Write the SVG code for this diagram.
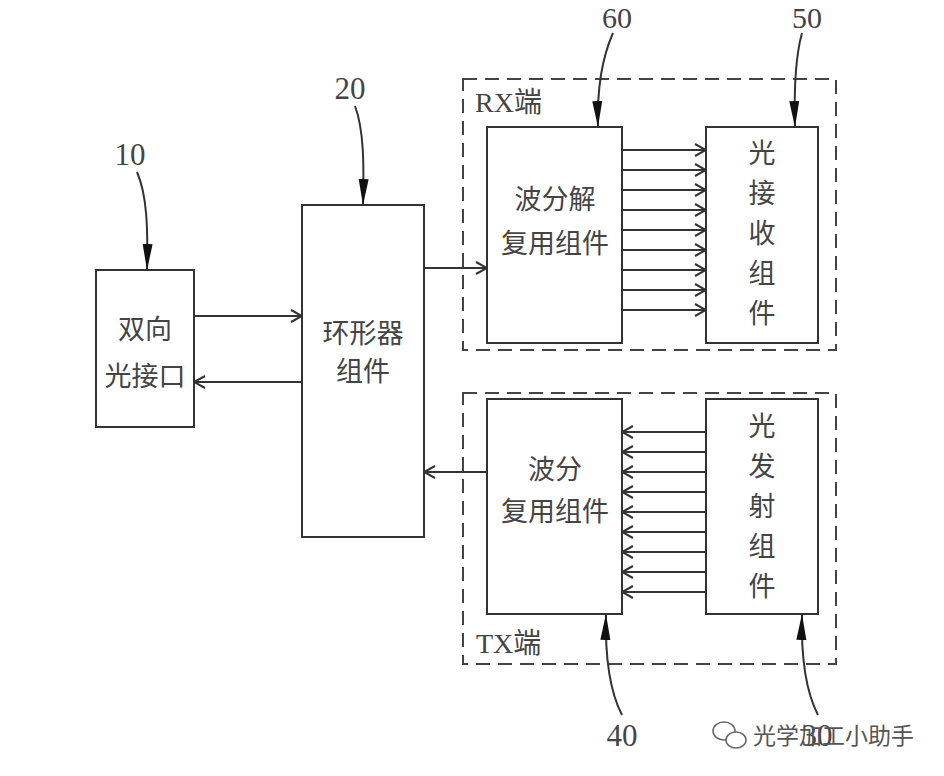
<svg xmlns="http://www.w3.org/2000/svg" width="944" height="776" viewBox="0 0 944 776">
<defs>
<style>
.box{fill:#fff;stroke:#333;stroke-width:2}
.dash{fill:none;stroke:#444;stroke-width:2;stroke-dasharray:14 8}
.cn{font-family:"Noto Sans CJK SC",sans-serif;font-size:27px;fill:#444;text-anchor:middle}
.num{font-family:"Liberation Serif","Noto Sans CJK SC",serif;font-size:31px;fill:#444;text-anchor:middle}
.top{font-size:30px}
.lab{font-family:"Liberation Serif","Noto Sans CJK SC",serif;font-size:28px;fill:#444}
.ln{fill:none;stroke:#333;stroke-width:2}
.lead{fill:none;stroke:#333;stroke-width:2}
.wm{font-family:"Noto Sans CJK SC",sans-serif;font-size:23px;fill:#555}
</style>
<marker id="open" markerUnits="userSpaceOnUse" markerWidth="14" markerHeight="14" viewBox="0 0 14 14" refX="13" refY="7" orient="auto">
<path d="M2,1 L13,7 L2,13" fill="none" stroke="#333" stroke-width="2"/>
</marker>
<marker id="fill" markerUnits="userSpaceOnUse" markerWidth="26" markerHeight="12" viewBox="0 0 26 12" refX="26" refY="6" orient="auto">
<path d="M0,1 L26,6 L0,11 Z" fill="#111"/>
</marker>
</defs>
<rect width="944" height="776" fill="#fff"/>

<g id="rx-group">
<rect class="dash" x="463" y="79" width="373" height="271"/>
<text class="lab" x="475" y="112">RX端</text>
</g>
<g id="tx-group">
<rect class="dash" x="463" y="393" width="373" height="271"/>
<text class="lab" x="476" y="653">TX端</text>
</g>

<g id="n10">
<rect class="box" x="96" y="270" width="98" height="157"/>
<text class="cn" x="145" y="339">双向</text>
<text class="cn" x="145" y="386">光接口</text>
</g>
<g id="n20">
<rect class="box" x="302" y="205" width="122" height="332"/>
<text class="cn" x="363" y="343">环形器</text>
<text class="cn" x="363" y="381">组件</text>
</g>
<g id="n60">
<rect class="box" x="487" y="127" width="135" height="216"/>
<text class="cn" x="555" y="209">波分解</text>
<text class="cn" x="555" y="253">复用组件</text>
</g>
<g id="n50">
<rect class="box" x="706" y="127" width="112" height="216"/>
<text class="cn" x="762" y="163">光</text>
<text class="cn" x="762" y="203">接</text>
<text class="cn" x="762" y="243">收</text>
<text class="cn" x="762" y="283">组</text>
<text class="cn" x="762" y="323">件</text>
</g>
<g id="n40">
<rect class="box" x="487" y="399" width="135" height="215"/>
<text class="cn" x="555" y="479">波分</text>
<text class="cn" x="555" y="521">复用组件</text>
</g>
<g id="n30">
<rect class="box" x="706" y="399" width="112" height="215"/>
<text class="cn" x="762" y="436">光</text>
<text class="cn" x="762" y="476">发</text>
<text class="cn" x="762" y="516">射</text>
<text class="cn" x="762" y="556">组</text>
<text class="cn" x="762" y="596">件</text>
</g>

<g id="connectors">
<path class="ln" d="M194,316 H302" marker-end="url(#open)"/>
<path class="ln" d="M302,382 H194" marker-end="url(#open)"/>
<path class="ln" d="M424,268 H487" marker-end="url(#open)"/>
<path class="ln" d="M487,472 H424" marker-end="url(#open)"/>
<path class="ln" d="M622,150 H706" marker-end="url(#open)"/>
<path class="ln" d="M622,170 H706" marker-end="url(#open)"/>
<path class="ln" d="M622,190 H706" marker-end="url(#open)"/>
<path class="ln" d="M622,210 H706" marker-end="url(#open)"/>
<path class="ln" d="M622,230 H706" marker-end="url(#open)"/>
<path class="ln" d="M622,250 H706" marker-end="url(#open)"/>
<path class="ln" d="M622,270 H706" marker-end="url(#open)"/>
<path class="ln" d="M622,290 H706" marker-end="url(#open)"/>
<path class="ln" d="M622,310 H706" marker-end="url(#open)"/>
<path class="ln" d="M706,432 H622" marker-end="url(#open)"/>
<path class="ln" d="M706,452 H622" marker-end="url(#open)"/>
<path class="ln" d="M706,472 H622" marker-end="url(#open)"/>
<path class="ln" d="M706,492 H622" marker-end="url(#open)"/>
<path class="ln" d="M706,512 H622" marker-end="url(#open)"/>
<path class="ln" d="M706,532 H622" marker-end="url(#open)"/>
<path class="ln" d="M706,552 H622" marker-end="url(#open)"/>
<path class="ln" d="M706,572 H622" marker-end="url(#open)"/>
<path class="ln" d="M706,592 H622" marker-end="url(#open)"/>
</g>

<g id="leaders">
<text class="num" x="130" y="165">10</text>
<path class="lead" d="M137,172 C147,195 148,228 147,270" marker-end="url(#fill)"/>
<text class="num" x="350" y="99">20</text>
<path class="lead" d="M355,106 C364,130 364,165 363,205" marker-end="url(#fill)"/>
<text class="num top" x="617" y="28">60</text>
<path class="lead" d="M613,33 C601,60 597,92 598,127" marker-end="url(#fill)"/>
<text class="num top" x="807" y="28">50</text>
<path class="lead" d="M802,33 C795,58 794,92 795,127" marker-end="url(#fill)"/>
<text class="num" x="622" y="746">40</text>
<path class="lead" d="M622,715 C609,690 605,655 606,614" marker-end="url(#fill)"/>
<text class="num" x="817" y="746">30</text>
<path class="lead" d="M818,715 C805,690 801,655 802,614" marker-end="url(#fill)"/>
</g>

<g id="watermark">
<ellipse cx="724" cy="731" rx="11" ry="9" fill="#fff" stroke="#666" stroke-width="1.5"/>
<ellipse cx="736" cy="740" rx="10" ry="8" fill="#fff" stroke="#666" stroke-width="1.5"/>
<text class="wm" x="753" y="744">光学加工小助手</text>
</g>
</svg>
